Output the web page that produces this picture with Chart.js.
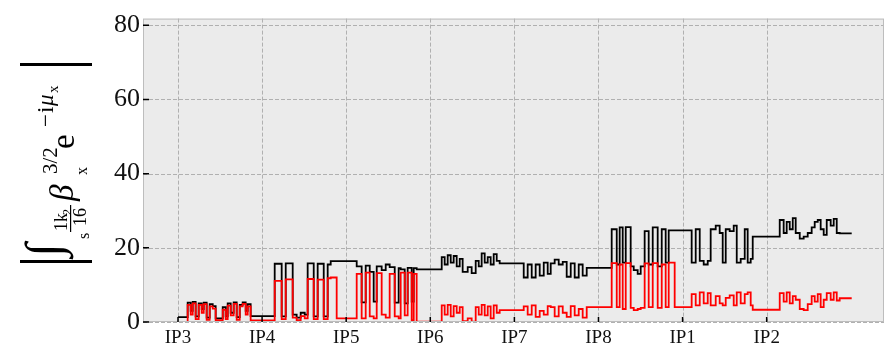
<!DOCTYPE html>
<html>
<head>
<meta charset="utf-8">
<script src="https://cdn.jsdelivr.net/npm/chart.js@4.4.0/dist/chart.umd.min.js"></script>
<style>
  html, body { margin: 0; padding: 0; background: #fff; }
  #wrap { width: 893px; height: 351px; }
</style>
</head>
<body>
<div id="wrap"><canvas id="chart" width="893" height="351"></canvas></div>
<script>
// IP labels on the x axis (one octant per unit, starting at IP3)
const ipLabels = ['IP3', 'IP4', 'IP5', 'IP6', 'IP7', 'IP8', 'IP1', 'IP2'];
const yTicks = [0, 20, 40, 60, 80];

// position along the ring in octants from IP3 (step breakpoints)
const sPos = [
  0, 0.115, 0.151, 0.175, 0.210, 0.246, 0.282, 0.306, 0.341, 0.377, 0.413, 0.448, 0.532, 0.567, 0.591, 0.627, 0.662, 0.698, 0.734, 0.769, 0.805, 0.829, 0.864,
  1.150, 1.233, 1.281, 1.364, 1.411, 1.459, 1.507, 1.542, 1.614, 1.661, 1.733, 1.780, 1.816, 1.887,
  2.125, 2.184, 2.232, 2.280, 2.327, 2.363, 2.422, 2.470, 2.517, 2.577, 2.624, 2.648, 2.696, 2.731, 2.779, 2.803, 2.838,
  3.136, 3.171, 3.207, 3.243, 3.278, 3.314, 3.350, 3.385, 3.445, 3.492, 3.540, 3.576, 3.611, 3.647, 3.683, 3.718, 3.754, 3.790, 3.825,
  4.111, 4.158, 4.206, 4.253, 4.301, 4.349, 4.396, 4.432, 4.479, 4.527, 4.575, 4.622, 4.670, 4.717, 4.765, 4.812, 4.860,
  5.157, 5.217, 5.252, 5.288, 5.324, 5.383, 5.419, 5.466, 5.502, 5.549, 5.597, 5.645, 5.704, 5.752, 5.799, 5.835, 5.906,
  6.108, 6.156, 6.204, 6.251, 6.299, 6.334, 6.394, 6.441, 6.477, 6.513, 6.560, 6.608, 6.644, 6.691, 6.739, 6.774, 6.810, 6.834,
  7.155, 7.202, 7.238, 7.274, 7.310, 7.345, 7.393, 7.440, 7.488, 7.535, 7.571, 7.607, 7.642, 7.678, 7.714, 7.761, 7.797, 7.833, 7.868, 8.011
];

// black curve: total driving term
const totalAbs = [
  1.3, 5.2, 3.0, 5.4, 1.5, 5.0, 3.5, 5.2, 1.2, 4.8, 4.3, 1.0, 4.0, 1.5, 5.0, 2.5, 5.3, 1.3, 4.6, 5.3, 3.0, 4.8, 1.6,
  15.7, 1.5, 15.8, 2.0, 1.2, 2.5, 2.0, 15.8, 1.5, 15.7, 1.5, 15.5, 16.4, 16.4,
  15.0, 5.3, 15.2, 13.5, 5.5, 15.0, 14.0, 15.5, 14.8, 5.2, 14.5, 14.2, 5.0, 14.6, 5.5, 14.5, 14.2,
  17.5, 15.5, 18.0, 16.0, 17.8, 15.0, 17.0, 13.5, 14.8, 13.2, 16.5, 15.0, 18.5, 16.0, 17.5, 15.5, 18.3, 16.5, 15.8,
  12.0, 15.5, 12.0, 15.5, 12.5, 16.0, 13.0, 15.8, 16.8, 15.5, 16.2, 12.2, 15.8, 12.0, 15.5, 12.5, 14.6,
  25.0, 15.5, 25.5, 16.0, 25.6, 15.0, 14.0, 13.0, 15.0, 24.5, 15.5, 25.5, 15.0, 25.0, 16.0, 24.7, 24.7,
  16.0, 25.0, 16.5, 15.5, 16.5, 25.0, 26.0, 24.0, 16.0, 25.0, 24.5, 26.0, 16.0, 17.0, 25.0, 16.0, 17.0, 23.0,
  27.5, 24.0, 27.0, 25.0, 28.0, 24.0, 22.5, 23.0, 24.0, 25.5, 27.0, 27.5, 25.0, 23.5, 27.5, 26.0, 27.8, 24.0, 23.9, 23.9
];

// red curve
const partAbs = [
  0.0, 4.6, 2.0, 5.0, 0.8, 4.6, 2.5, 4.8, 0.6, 4.2, 3.6, 0.5, 3.3, 0.8, 4.4, 1.8, 4.9, 0.6, 4.2, 4.9, 2.0, 4.2, 0.4,
  11.1, 0.8, 11.5, 1.2, 0.5, 1.6, 1.0, 11.6, 0.8, 11.4, 0.8, 11.8, 12.0, 1.0,
  13.0, 1.0, 13.3, 1.5, 1.0, 13.2, 2.0, 1.2, 13.0, 1.5, 1.0, 13.3, 1.8, 13.3, 0.5, 13.0, 0.1,
  4.5, 2.0, 4.6, 1.5, 4.3, 2.5, 4.0, 0.2, 1.0, 0.1, 4.0, 2.0, 4.6, 1.8, 4.2, 1.0, 4.5, 2.5, 3.2,
  4.2, 2.0, 4.5, 1.4, 3.0, 2.0, 4.3, 4.0, 1.5, 4.2, 2.5, 1.4, 4.3, 1.8, 3.5, 1.2, 4.0,
  15.9, 4.0, 15.5, 3.5, 15.9, 3.8, 3.2, 3.5, 3.8, 15.8, 4.0, 15.9, 3.8, 15.5, 4.0, 16.0, 4.0,
  7.5, 4.5, 8.0, 5.0, 7.8, 4.5, 7.0, 5.0, 4.5, 6.5, 7.2, 4.5, 8.0, 5.0, 7.5, 8.0, 4.5, 3.3,
  7.8, 5.5, 8.0, 5.0, 7.0, 6.0, 3.5, 3.2, 4.8, 7.0, 5.5, 7.5, 4.0, 6.0, 7.8, 6.0, 8.0, 5.8, 6.4, 6.4
];

const serif = '"Liberation Serif", "Times New Roman", serif';

const frame = {
  id: 'frame',
  beforeDatasetsDraw(chart) {
    const { ctx, chartArea: a, scales } = chart;
    ctx.save();
    ctx.fillStyle = '#ebebeb';
    ctx.fillRect(a.left, a.top, a.right - a.left, a.bottom - a.top);
    // dashed grid
    ctx.strokeStyle = '#b0b0b0';
    ctx.lineWidth = 1;
    ctx.setLineDash([4, 2]);
    ctx.beginPath();
    yTicks.forEach(v => {
      const p = Math.round(scales.y.getPixelForValue(v)) + 0.5;
      ctx.moveTo(a.left, p); ctx.lineTo(a.right, p);
    });
    ipLabels.forEach((l, i) => {
      const p = Math.round(scales.x.getPixelForValue(i)) + 0.5;
      ctx.moveTo(p, a.top); ctx.lineTo(p, a.bottom);
    });
    ctx.stroke();
    ctx.restore();
  },
  afterDraw(chart) {
    const { ctx, chartArea: a, scales } = chart;
    ctx.save();
    ctx.strokeStyle = '#bdbdbd';
    ctx.lineWidth = 1;
    ctx.strokeRect(a.left + 0.5, a.top + 0.5, a.right - a.left - 1, a.bottom - a.top - 1);
    // inward ticks
    ctx.strokeStyle = '#000';
    ctx.lineWidth = 1.5;
    ctx.beginPath();
    yTicks.forEach(v => {
      const p = scales.y.getPixelForValue(v);
      ctx.moveTo(a.left, p); ctx.lineTo(a.left + 6, p);
    });
    ipLabels.forEach((l, i) => {
      const p = scales.x.getPixelForValue(i);
      ctx.moveTo(p, a.bottom); ctx.lineTo(p, a.bottom - 5);
    });
    ctx.stroke();
    ctx.restore();
  }
};

// rotated math label on the y axis
const yLabel = {
  id: 'ylabel',
  afterDraw(chart) {
    const ctx = chart.ctx;
    ctx.save();
    ctx.translate(0, 263);
    ctx.rotate(-Math.PI / 2);
    ctx.fillStyle = '#000';
    ctx.textAlign = 'left';
    ctx.textBaseline = 'alphabetic';
    const t = (str, a, b, size, style) => {
      ctx.font = (style || '') + ' ' + size + 'px ' + serif;
      ctx.fillText(str, a, b);
    };
    ctx.fillRect(0, 20, 3, 72);
    ctx.fillRect(197, 20, 3, 72);
    t('∫', 6, 60, 50, 'italic');
    t('s', 24, 89, 16);
    t('1k', 32, 67, 18);
    t('2', 48, 71, 12);
    ctx.fillRect(31, 70, 27, 1.2);
    t('16', 37, 86, 18);
    t('β', 62, 73, 33, 'italic');
    t('x', 88, 87, 16);
    t('3/2', 89, 57, 21);
    t('e', 114, 74, 33);
    t('−', 136, 53, 23);
    t('i', 150, 53, 23);
    t('μ', 157, 53, 23, 'italic');
    t('x', 170, 58, 15);
    ctx.restore();
  }
};

const toPts = vals => sPos.map((s, i) => ({ x: s, y: vals[i] }));

new Chart(document.getElementById('chart'), {
  type: 'line',
  data: {
    datasets: [
      { data: toPts(partAbs), borderColor: '#ff0000', borderWidth: 1.8, stepped: 'before', pointRadius: 0, fill: false },
      { data: toPts(totalAbs), borderColor: '#000000', borderWidth: 1.8, stepped: 'before', pointRadius: 0, fill: false },
    ],
  },
  options: {
    responsive: false,
    animation: false,
    devicePixelRatio: 1,
    layout: { padding: { left: 0, right: 9, top: 12, bottom: 0 } },
    plugins: { legend: { display: false }, tooltip: { enabled: false } },
    scales: {
      x: {
        type: 'linear',
        min: -0.416,
        max: 8.395,
        afterBuildTicks: s => { s.ticks = ipLabels.map((l, i) => ({ value: i })); },
        afterFit: s => { s.height = 29; },
        ticks: { callback: v => ipLabels[v], font: { family: serif, size: 19 }, color: '#111', padding: 5, maxRotation: 0 },
        grid: { display: false, drawTicks: false },
        border: { display: false },
      },
      y: {
        min: 0,
        max: 81.8,
        afterBuildTicks: s => { s.ticks = yTicks.map(v => ({ value: v })); },
        afterFit: s => { s.width = 143; },
        ticks: { font: { family: serif, size: 26 }, color: '#111', padding: 3 },
        grid: { display: false, drawTicks: false },
        border: { display: false },
      },
    },
  },
  plugins: [frame, yLabel],
});
</script>
</body>
</html>
